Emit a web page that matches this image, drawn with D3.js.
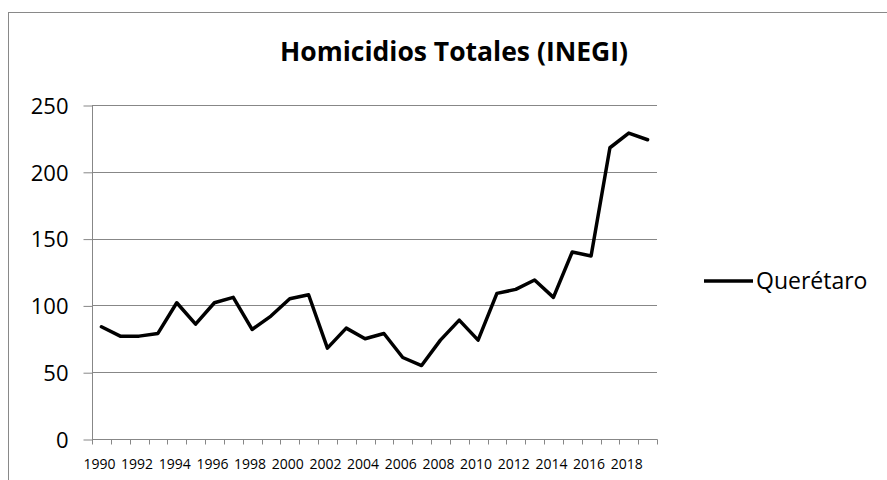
<!DOCTYPE html>
<html>
<head>
<meta charset="utf-8">
<script src="https://cdn.jsdelivr.net/npm/d3@7"></script>
<style>
  html, body { margin: 0; padding: 0; background: #fff; }
  svg { display: block; }
  text { font-family: "Open Sans", "Noto Sans", sans-serif; fill: #000; }
</style>
</head>
<body>
<svg id="chart" width="887" height="480"></svg>
<script>
const years = d3.range(1990, 2020).map(String);
const queretaro = [84, 77, 77, 79, 102, 86, 102, 106, 82, 92, 105, 108, 68, 83, 75, 79, 61, 55, 74, 89, 74, 109, 112, 119, 106, 140, 137, 218, 229, 224];
const yTicks = [0, 50, 100, 150, 200, 250];
const xLabelYears = years.filter((d, i) => i % 2 === 0);
const seriesName = "Querétaro";
const chartTitle = "Homicidios Totales (INEGI)";

const svg = d3.select("#chart");
const W = 887, H = 480;
const plot = { left: 92, right: 657, top: 105, bottom: 439 };

// outer chart border
svg.append("rect")
  .attr("x", 8.5).attr("y", 12.5)
  .attr("width", W + 20).attr("height", H + 20)
  .attr("fill", "#fff").attr("stroke", "#898989").attr("stroke-width", 1);

const x = d3.scaleBand().domain(years).range([plot.left, plot.right]);
const y = d3.scaleLinear().domain([0, 250]).range([plot.bottom, plot.top]);

// gridlines
svg.append("g").selectAll("line")
  .data(yTicks.filter(d => d > 0))
  .join("line")
  .attr("x1", plot.left).attr("x2", plot.right)
  .attr("y1", d => Math.round(y(d)) + 0.5).attr("y2", d => Math.round(y(d)) + 0.5)
  .attr("stroke", "#878787").attr("stroke-width", 1);

// y axis
const yAxis = d3.axisLeft(y).tickValues(yTicks).tickSize(9).tickPadding(15).tickFormat(d3.format("d"));
const gy = svg.append("g").attr("transform", `translate(${plot.left + 0.5},0.5)`).call(yAxis);
gy.select(".domain").attr("stroke", "#878787").attr("d", `M0,${plot.top}V${plot.bottom}`);
gy.selectAll(".tick line").attr("stroke", "#878787");
gy.selectAll(".tick text").attr("font-size", 22).attr("font-family", '"Open Sans", sans-serif').attr("fill", "#000").attr("dy", "0.35em");

// x axis: ticks between categories
const gx = svg.append("g").attr("transform", `translate(0,${plot.bottom + 0.5})`);
gx.append("line").attr("x1", plot.left).attr("x2", plot.right + 0.5)
  .attr("stroke", "#878787");
const boundaries = years.map(d => x(d)).concat([plot.right]);
gx.selectAll("line.tk").data(boundaries).join("line").attr("class", "tk")
  .attr("x1", d => Math.round(d) + 0.5).attr("x2", d => Math.round(d) + 0.5)
  .attr("y1", 0).attr("y2", 5).attr("stroke", "#878787");
gx.selectAll("text").data(xLabelYears).join("text")
  .attr("x", d => x(d) + x.bandwidth() / 2 - 2)
  .attr("y", 29)
  .attr("text-anchor", "middle")
  .attr("font-size", 14)
  .text(d => d);

// line
const line = d3.line()
  .x((d, i) => x(years[i]) + x.bandwidth() / 2)
  .y(d => y(d));
svg.append("path").datum(queretaro)
  .attr("d", line)
  .attr("fill", "none").attr("stroke", "#000").attr("stroke-width", 3.5)
  .attr("stroke-linejoin", "round").attr("stroke-linecap", "round");

// title
svg.append("text")
  .attr("x", 454).attr("y", 61)
  .attr("text-anchor", "middle")
  .attr("font-size", 26.5).attr("font-weight", "bold")
  .text(chartTitle);

// legend
const lg = svg.append("g");
lg.append("line").attr("x1", 704).attr("x2", 753).attr("y1", 281).attr("y2", 281)
  .attr("stroke", "#000").attr("stroke-width", 3.5);
lg.append("text").attr("x", 756).attr("y", 281).attr("dy", "0.35em")
  .attr("font-size", 23).text(seriesName);
</script>
</body>
</html>
